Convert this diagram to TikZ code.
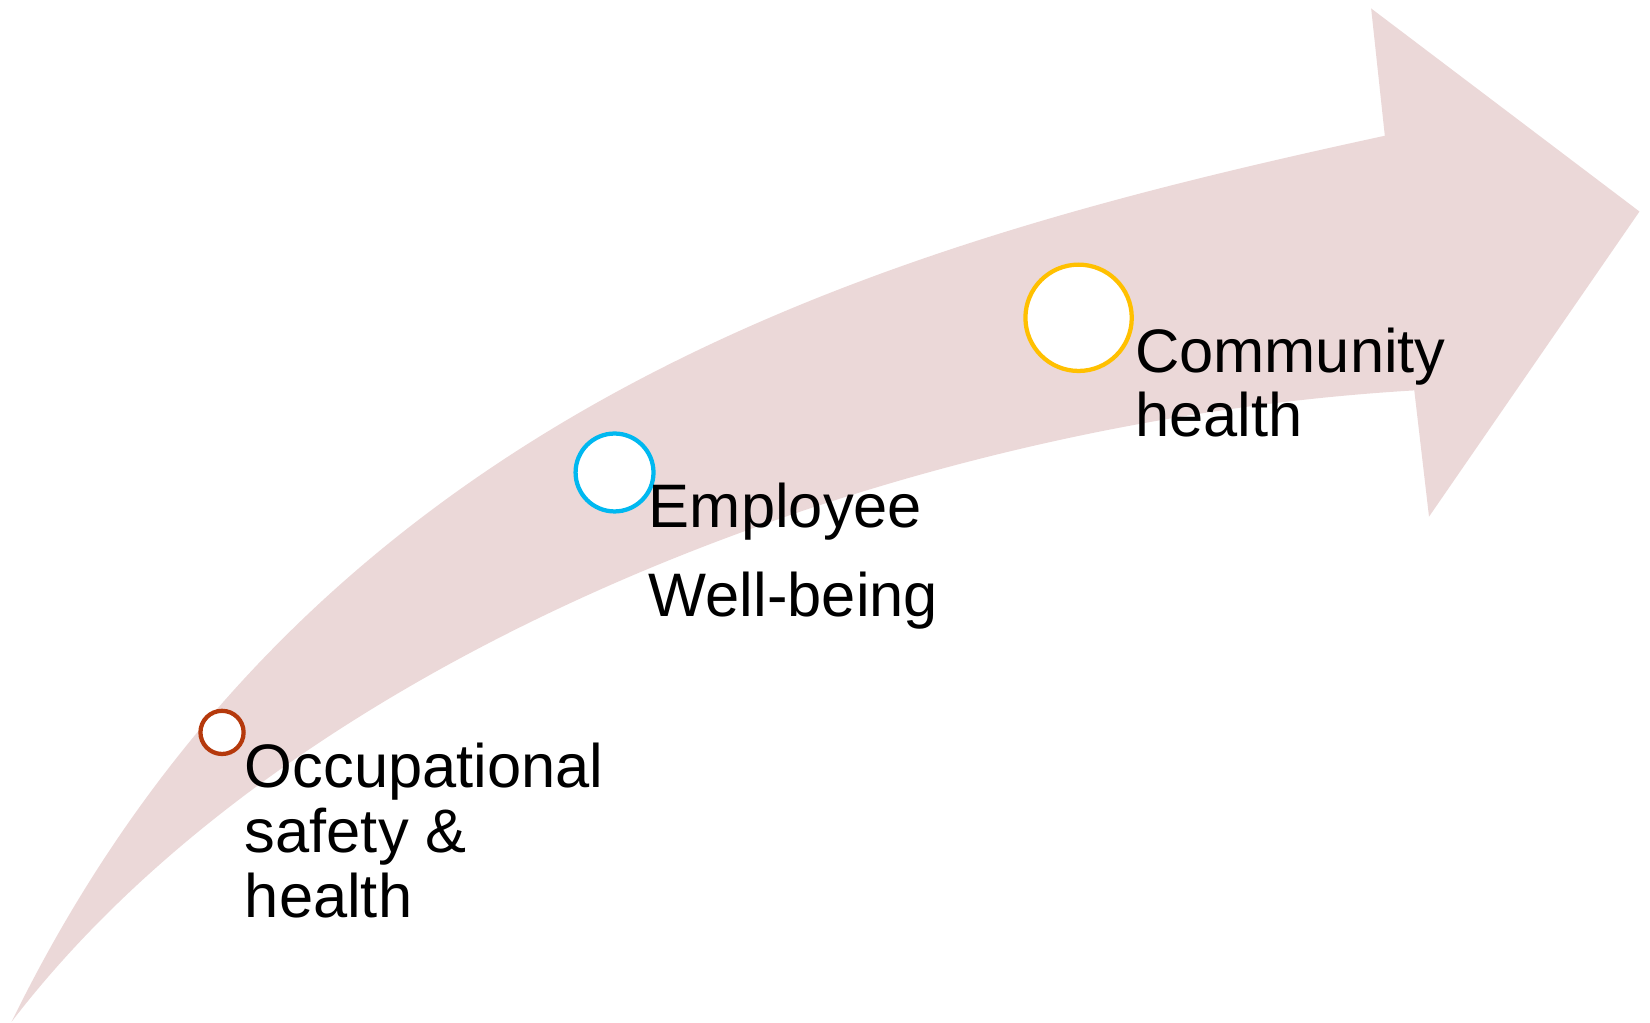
\documentclass[tikz,border=0pt]{standalone}
\usepackage{fontspec}
\setmainfont{Liberation Sans}
\definecolor{arrowpink}{RGB}{235,216,216}
\definecolor{dotred}{RGB}{181,57,12}
\definecolor{dotblue}{RGB}{0,184,240}
\definecolor{dotyellow}{RGB}{255,192,0}
\tikzset{
  stage/.style={circle, draw, fill=white, line width=1.15pt, inner sep=0pt},
  lbl/.style={anchor=base west, inner sep=0pt, font=\fontsize{16.6pt}{17.6pt}\selectfont}
}
\begin{document}
\begin{tikzpicture}[x=0.01cm, y=-0.01cm]
\useasboundingbox (0,0) rectangle (1568,972);
% curved arrow
\fill[arrowpink] (11,971)
  .. controls (300,380) and (850,230) .. (1316,129)
  -- (1303,8) -- (1558,201) -- (1358,491) -- (1344,371)
  .. controls (850,400) and (280,620) .. (11,971) -- cycle;
% stage markers
\node[stage, draw=dotred, minimum size=0.41cm] (c1) at (211,696) {};
\node[stage, draw=dotblue, minimum size=0.74cm] (c2) at (584,449) {};
\node[stage, draw=dotyellow, minimum size=1.01cm] (c3) at (1025,302) {};
% labels
\node[lbl] (t1a) at (232,748) {Occupational};
\node[lbl] (t1b) at (232,810) {safety \&};
\node[lbl] (t1c) at (232,872) {health};
\node[lbl] (t2a) at (616,501) {Employee};
\node[lbl] (t2b) at (616,586) {Well-being};
\node[lbl] (t3a) at (1078,354) {Community};
\node[lbl] (t3b) at (1078,415) {health};
\end{tikzpicture}
\end{document}
